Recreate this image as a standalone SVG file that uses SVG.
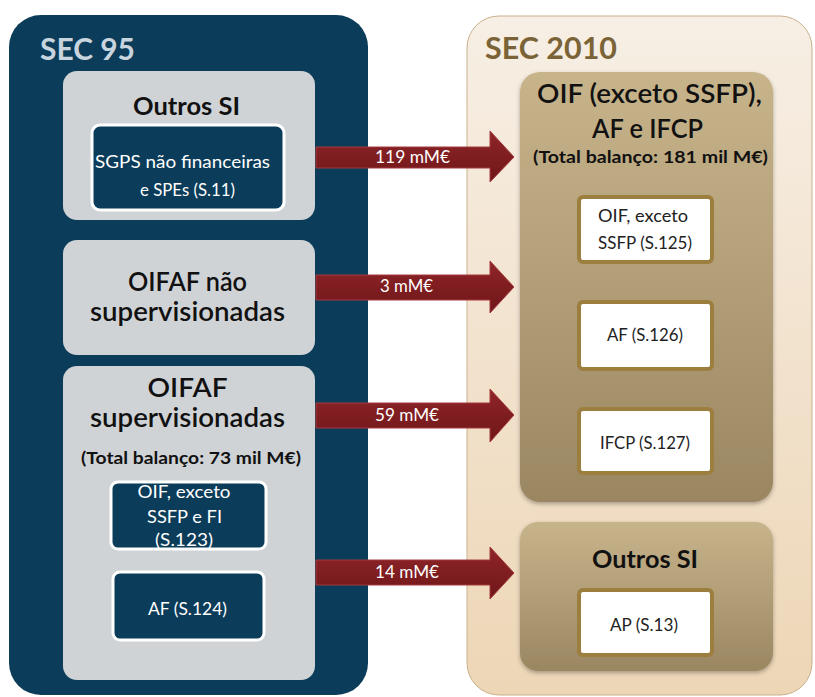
<svg xmlns="http://www.w3.org/2000/svg" width="815" height="697" viewBox="0 0 815 697">
<defs>
<linearGradient id="gR" x1="0" y1="0" x2="0" y2="1"><stop offset="0" stop-color="#f7efe5"/><stop offset="1" stop-color="#edd6b6"/></linearGradient>
<linearGradient id="gB" x1="0" y1="0" x2="0" y2="1"><stop offset="0" stop-color="#c8b48b"/><stop offset="1" stop-color="#9a8762"/></linearGradient>
<linearGradient id="gA" x1="0" y1="0" x2="0" y2="1"><stop offset="0" stop-color="#8e2529"/><stop offset="1" stop-color="#701619"/></linearGradient>
<filter id="sh" x="-10%" y="-10%" width="120%" height="120%"><feDropShadow dx="0" dy="2" stdDeviation="2" flood-color="#000" flood-opacity="0.3"/></filter>
</defs>
<style>
text{font-family:Lato,"Open Sans","Liberation Sans",sans-serif;text-anchor:middle}
.t1{font-size:31px;font-weight:bold;text-anchor:start}
.gray{fill:#d0d3d6}
.dk{fill:#0b3c59;stroke:#fff;stroke-width:3}
.wb{fill:#fff;stroke:#9c7e3f;stroke-width:4}
.h{font-size:26px;fill:#111;font-weight:600}
.hs{font-size:25px;fill:#111;font-weight:bold}
.s{font-size:17px;font-weight:bold;fill:#111}
.wt{font-size:18px;fill:#fff}
.bt{font-size:16.5px;fill:#222}
.arw{fill:url(#gA);stroke:#a33a3d;stroke-width:1}
.at{font-size:17px;fill:#fff;text-anchor:start}
</style>
<g id="sec95">
<rect x="9" y="15" width="359" height="680" rx="32" fill="#0b3c59"/>
<text class="t1" x="40" y="60" fill="#c8d5de" textLength="95" lengthAdjust="spacingAndGlyphs">SEC 95</text>
</g>
<g id="outros-si-left">
<rect class="gray" x="63" y="71" width="252" height="149" rx="14"/>
<text class="hs" x="186.5" y="115" textLength="107" lengthAdjust="spacingAndGlyphs">Outros SI</text>
</g>
<g id="sgps">
<rect class="dk" x="92" y="125" width="192" height="85" rx="8"/>
<text class="wt" x="182.5" y="168" textLength="175" lengthAdjust="spacingAndGlyphs">SGPS não financeiras</text>
<text class="wt" x="187.5" y="196" textLength="95" lengthAdjust="spacingAndGlyphs">e SPEs (S.11)</text>
</g>
<g id="oifaf-nao">
<rect class="gray" x="63" y="240" width="252" height="115" rx="14"/>
<text class="h" x="187.5" y="291" textLength="119" lengthAdjust="spacingAndGlyphs">OIFAF não</text>
<text class="h" x="187.5" y="321" textLength="195" lengthAdjust="spacingAndGlyphs">supervisionadas</text>
</g>
<g id="oifaf-sup">
<rect class="gray" x="63" y="366" width="252" height="314" rx="14"/>
<text class="h" x="187.5" y="397" textLength="80" lengthAdjust="spacingAndGlyphs">OIFAF</text>
<text class="h" x="187.5" y="427" textLength="195" lengthAdjust="spacingAndGlyphs">supervisionadas</text>
<text class="s" x="191" y="464" textLength="220" lengthAdjust="spacingAndGlyphs">(Total balanço: 73 mil M€)</text>
</g>
<g id="s123">
<rect class="dk" x="111" y="482" width="155" height="67" rx="7"/>
<text class="wt" x="184" y="498" textLength="93" lengthAdjust="spacingAndGlyphs">OIF, exceto</text>
<text class="wt" x="184.5" y="523" textLength="75" lengthAdjust="spacingAndGlyphs">SSFP e FI</text>
<text class="wt" x="184" y="546" textLength="58" lengthAdjust="spacingAndGlyphs">(S.123)</text>
</g>
<g id="s124">
<rect class="dk" x="113" y="572" width="151" height="68" rx="7"/>
<text class="wt" x="187.5" y="615" style="font-size:17px" textLength="79" lengthAdjust="spacingAndGlyphs">AF (S.124)</text>
</g>
<g id="sec2010">
<rect x="467" y="16" width="345" height="679" rx="32" fill="url(#gR)" stroke="#c9b08c" stroke-width="1"/>
<text class="t1" x="485" y="59" fill="#7a6437" textLength="132" lengthAdjust="spacingAndGlyphs">SEC 2010</text>
</g>
<g id="oif-af-ifcp">
<rect x="520" y="72" width="253" height="430" rx="20" fill="url(#gB)" filter="url(#sh)"/>
<text class="h" x="649.5" y="103" textLength="225" lengthAdjust="spacingAndGlyphs">OIF (exceto SSFP),</text>
<text class="h" x="647.5" y="138" textLength="111" lengthAdjust="spacingAndGlyphs">AF e IFCP</text>
<text class="s" x="650.5" y="163" textLength="235" lengthAdjust="spacingAndGlyphs">(Total balanço: 181 mil M€)</text>
</g>
<g id="s125">
<rect class="wb" x="579" y="197" width="133" height="65" rx="4"/>
<text class="bt" x="643" y="222" textLength="90" lengthAdjust="spacingAndGlyphs">OIF, exceto</text>
<text class="bt" x="645" y="249" textLength="94" lengthAdjust="spacingAndGlyphs">SSFP (S.125)</text>
</g>
<g id="s126">
<rect class="wb" x="579" y="302" width="133" height="67" rx="4"/>
<text class="bt" x="645" y="341" textLength="76" lengthAdjust="spacingAndGlyphs">AF (S.126)</text>
</g>
<g id="s127">
<rect class="wb" x="579" y="409" width="133" height="64" rx="4"/>
<text class="bt" x="645" y="449" textLength="90" lengthAdjust="spacingAndGlyphs">IFCP (S.127)</text>
</g>
<g id="outros-si-right">
<rect x="520" y="522" width="253" height="149" rx="18" fill="url(#gB)" filter="url(#sh)"/>
<text class="hs" x="645" y="568" textLength="106" lengthAdjust="spacingAndGlyphs">Outros SI</text>
</g>
<g id="s13">
<rect class="wb" x="579" y="590" width="133" height="65" rx="4"/>
<text class="bt" x="644" y="631" textLength="68" lengthAdjust="spacingAndGlyphs">AP (S.13)</text>
</g>
<g id="connectors">
<path class="arw" d="M316,147 H490 V131 L514,157 L490,182 V168 H316 Z"/>
<text class="at" x="375" y="163" textLength="75" lengthAdjust="spacingAndGlyphs">119 mM€</text>
<path class="arw" d="M316,275 H490 V261 L514,287 L490,313 V300 H316 Z"/>
<text class="at" x="380" y="292" textLength="53" lengthAdjust="spacingAndGlyphs">3 mM€</text>
<path class="arw" d="M316,403 H490 V389 L514,415 L490,442 V428 H316 Z"/>
<text class="at" x="375" y="421" textLength="64" lengthAdjust="spacingAndGlyphs">59 mM€</text>
<path class="arw" d="M316,560 H490 V547 L514,573 L490,599 V585 H316 Z"/>
<text class="at" x="375" y="578" textLength="64" lengthAdjust="spacingAndGlyphs">14 mM€</text>
</g>
</svg>
